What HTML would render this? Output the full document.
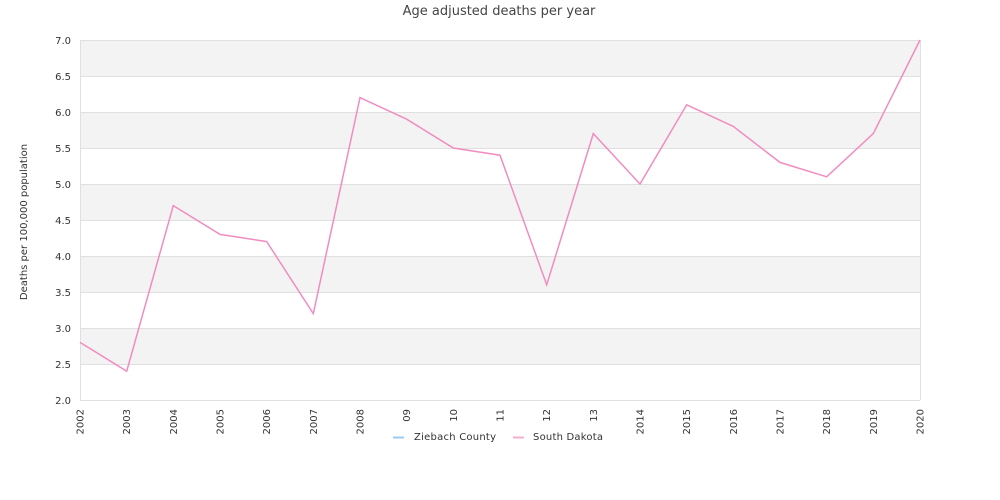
<!DOCTYPE html>
<html><head><style>
html,body{margin:0;padding:0;background:#fff;}
svg{display:block;font-family:"DejaVu Sans","Liberation Sans",sans-serif;}
</style></head><body>
<svg width="1000" height="500" xmlns="http://www.w3.org/2000/svg">
<text x="499" y="15" text-anchor="middle" font-size="13" fill="#444">Age adjusted deaths per year</text>
<g fill="#f3f3f3">
<rect x="80" y="40" width="840" height="36"/>
<rect x="80" y="112" width="840" height="36"/>
<rect x="80" y="184" width="840" height="36"/>
<rect x="80" y="256" width="840" height="36"/>
<rect x="80" y="328" width="840" height="36"/>
</g>
<g stroke="#e0e0e0" stroke-width="1">
<line x1="80" y1="40.5" x2="920" y2="40.5"/>
<line x1="80" y1="76.5" x2="920" y2="76.5"/>
<line x1="80" y1="112.5" x2="920" y2="112.5"/>
<line x1="80" y1="148.5" x2="920" y2="148.5"/>
<line x1="80" y1="184.5" x2="920" y2="184.5"/>
<line x1="80" y1="220.5" x2="920" y2="220.5"/>
<line x1="80" y1="256.5" x2="920" y2="256.5"/>
<line x1="80" y1="292.5" x2="920" y2="292.5"/>
<line x1="80" y1="328.5" x2="920" y2="328.5"/>
<line x1="80" y1="364.5" x2="920" y2="364.5"/>
<line x1="80" y1="400.5" x2="920" y2="400.5"/>
<line x1="80.5" y1="40" x2="80.5" y2="400"/>
<line x1="920.5" y1="40" x2="920.5" y2="400"/>
</g>
<g font-size="10" fill="#333" text-anchor="end">
<text x="71" y="44">7.0</text><text x="71" y="80">6.5</text><text x="71" y="116">6.0</text>
<text x="71" y="152">5.5</text><text x="71" y="188">5.0</text><text x="71" y="224">4.5</text>
<text x="71" y="260">4.0</text><text x="71" y="296">3.5</text><text x="71" y="332">3.0</text>
<text x="71" y="368">2.5</text><text x="71" y="404">2.0</text>
</g>
<text transform="translate(27,222) rotate(-90)" text-anchor="middle" font-size="10" fill="#333">Deaths per 100,000 population</text>
<g font-size="10" fill="#333" text-anchor="end">
<text transform="translate(83.5,409) rotate(-90)">2002</text>
<text transform="translate(130.2,409) rotate(-90)">2003</text>
<text transform="translate(176.8,409) rotate(-90)">2004</text>
<text transform="translate(223.5,409) rotate(-90)">2005</text>
<text transform="translate(270.2,409) rotate(-90)">2006</text>
<text transform="translate(316.8,409) rotate(-90)">2007</text>
<text transform="translate(363.5,409) rotate(-90)">2008</text>
<text transform="translate(410.2,409) rotate(-90)">09</text>
<text transform="translate(456.8,409) rotate(-90)">10</text>
<text transform="translate(503.5,409) rotate(-90)">11</text>
<text transform="translate(550.2,409) rotate(-90)">12</text>
<text transform="translate(596.8,409) rotate(-90)">13</text>
<text transform="translate(643.5,409) rotate(-90)">2014</text>
<text transform="translate(690.2,409) rotate(-90)">2015</text>
<text transform="translate(736.8,409) rotate(-90)">2016</text>
<text transform="translate(783.5,409) rotate(-90)">2017</text>
<text transform="translate(830.2,409) rotate(-90)">2018</text>
<text transform="translate(876.8,409) rotate(-90)">2019</text>
<text transform="translate(923.5,409) rotate(-90)">2020</text>
</g>
<polyline fill="none" stroke="#f08cc0" stroke-width="1.5" points="80,342.4 126.7,371.2 173.3,205.6 220,234.4 266.7,241.6 313.3,313.6 360,97.6 406.7,119.2 453.3,148 500,155.2 546.7,284.8 593.3,133.6 640,184 686.7,104.8 733.3,126.4 780,162.4 826.7,176.8 873.3,133.6 920,40"/>
<line x1="393" y1="437.5" x2="404" y2="437.5" stroke="#9ccbee" stroke-width="2"/>
<text x="414" y="440" font-size="10" fill="#333" textLength="82">Ziebach County</text>
<line x1="513" y1="437.5" x2="524" y2="437.5" stroke="#f5aed3" stroke-width="2"/>
<text x="533" y="440" font-size="10" fill="#333" textLength="70">South Dakota</text>
</svg>
</body></html>
